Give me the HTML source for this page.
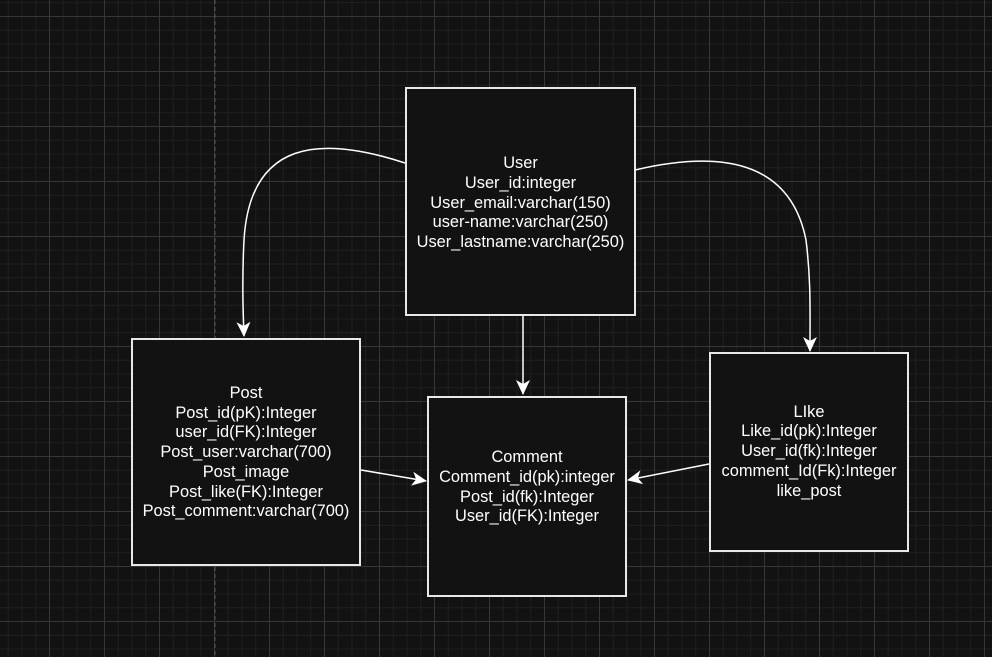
<!DOCTYPE html>
<html><head><meta charset="utf-8"><style>
html,body{margin:0;padding:0;background:#121212;}
body{width:992px;height:657px;overflow:hidden;position:relative;font-family:"Liberation Sans",Arial,sans-serif;}
.bg{position:absolute;left:0;top:0;width:992px;height:657px;
background-image:
linear-gradient(to right,#363636 1px,transparent 1px),
linear-gradient(to bottom,#363636 1px,transparent 1px),
linear-gradient(to right,#1f1f1f 1px,transparent 1px),
linear-gradient(to bottom,#1f1f1f 1px,transparent 1px);
background-size:55px 55px,55px 55px,13.75px 13.75px,13.75px 13.75px;
background-position:49px 0,0 16px,7.75px 0,0 2.25px;}
.box{position:absolute;background:#121212;border:2px solid #e8e8e8;box-sizing:border-box;color:#fff;font-size:16.4px;line-height:19.8px;text-align:center;display:flex;align-items:center;justify-content:center;white-space:nowrap;}
svg{position:absolute;left:0;top:0;}
</style></head><body>
<div class="bg"></div>
<svg width="992" height="657"><line x1="215" y1="0" x2="215" y2="657" stroke="#555" stroke-width="1" stroke-dasharray="4,3"/></svg>
<div class="box" style="left:405px;top:87px;width:231px;height:229px;"><div style="margin-top:4px">User<br>User_id:integer<br>User_email:varchar(150)<br>user-name:varchar(250)<br>User_lastname:varchar(250)</div></div>
<div class="box" style="left:131px;top:338px;width:230px;height:228px;"><div style="margin-top:2px">Post<br>Post_id(pK):Integer<br>user_id(FK):Integer<br>Post_user:varchar(700)<br>Post_image<br>Post_like(FK):Integer<br>Post_comment:varchar(700)</div></div>
<div class="box" style="left:427px;top:396px;width:200px;height:201px;"><div style="margin-top:-18px">Comment<br>Comment_id(pk):integer<br>Post_id(fk):Integer<br>User_id(FK):Integer</div></div>
<div class="box" style="left:709px;top:352px;width:200px;height:200px;"><div style="margin-top:0px">LIke<br>Like_id(pk):Integer<br>User_id(fk):Integer<br>comment_Id(Fk):Integer<br>like_post</div></div>
<svg width="992" height="657">
<defs><marker id="a" markerWidth="16" markerHeight="16" refX="14" refY="7" orient="auto" markerUnits="userSpaceOnUse"><path d="M0,0 L15,7 L0,14 L4,7 Z" fill="#fff"/></marker></defs>
<g fill="none" stroke="#fff" stroke-width="1.5">
<path d="M405,163 C320,135 250,140 244,240 C242,280 243,310 244,336" marker-end="url(#a)"/>
<path d="M635,170 C720,150 790,160 806,240 C811,280 810,310 810,351" marker-end="url(#a)"/>
<path d="M523,316 L523,394" marker-end="url(#a)"/>
<path d="M361,470 L426,481" marker-end="url(#a)"/>
<path d="M709,464 L628,480" marker-end="url(#a)"/>
</g></svg>
</body></html>
